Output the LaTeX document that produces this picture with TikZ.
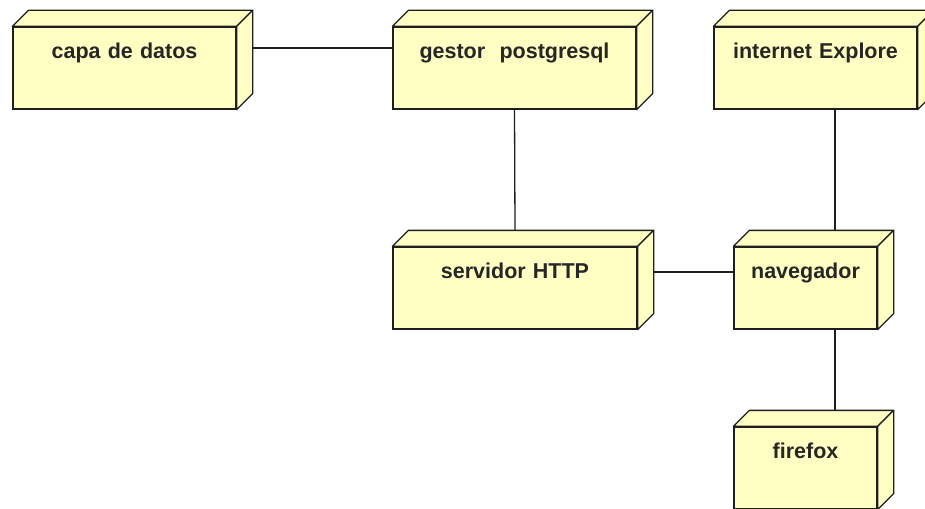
\documentclass[tikz,border=0pt]{standalone}
\usepackage{fontspec}
\setmainfont{Liberation Sans}
\definecolor{nodefill}{RGB}{255,255,195}
\definecolor{edgecol}{RGB}{30,30,30}
\begin{document}
\begin{tikzpicture}[x=1pt,y=-1pt,
  box/.style={draw=edgecol, fill=nodefill, line width=1.3pt, inner sep=0pt,
    text height=31.5pt, text depth=50.5pt, align=center,
    font=\fontsize{21.5}{24}\selectfont\bfseries, text=black!85},
  face/.style={draw=edgecol, fill=nodefill, line width=1.3pt, line join=round},
  conn/.style={draw=edgecol, line width=1.3pt}]
\useasboundingbox (0,0) rectangle (925,508);
\node[box, text width=223pt] (capa) at (124.5,68) {capa de datos};
\node[box, text width=243pt] (gestor) at (514.5,68) {gestor\ \ postgresql};
\node[box, text width=203pt] (internet) at (815.5,68) {internet Explore};
\node[box, text width=244pt] (servidor) at (515,288) {servidor HTTP};
\node[box, text width=143pt] (navegador) at (805.5,288) {navegador};
\node[box, text width=143pt] (firefox) at (805.5,468) {firefox};
\foreach \n in {capa,gestor,internet,servidor,navegador,firefox}{
  \path[face] (\n.north west) -- ++(16pt,16pt) -- ([shift={(16pt,16pt)}]\n.north east) -- (\n.north east) -- cycle;
  \path[face] (\n.north east) -- ++(16pt,16pt) -- ([shift={(16pt,16pt)}]\n.south east) -- (\n.south east) -- cycle;
}
\draw[conn] ([shift={(16pt,20pt)}]capa.east) -- ([yshift=20pt]gestor.west);
\draw[conn] (gestor.south) -- ([yshift=16pt]servidor.north);
\draw[conn] ([shift={(16pt,16pt)}]servidor.east) -- ([yshift=16pt]navegador.west);
\draw[conn] ([xshift=19.5pt]internet.south) -- ([shift={(29.5pt,16pt)}]navegador.north);
\draw[conn] ([xshift=29.5pt]navegador.south) -- ([shift={(29.5pt,16pt)}]firefox.north);
\end{tikzpicture}
\end{document}
